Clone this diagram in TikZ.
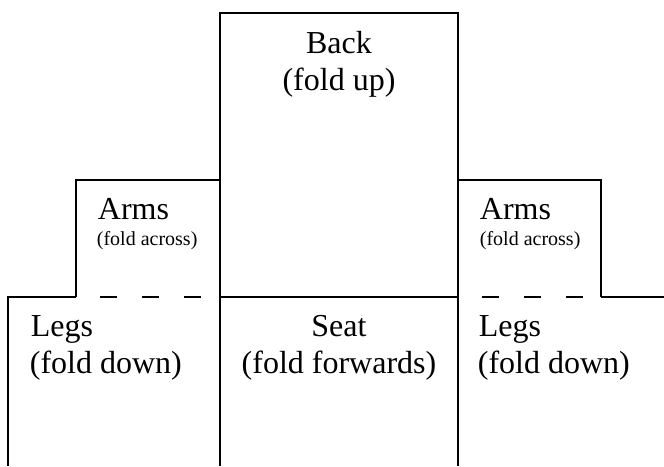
\documentclass[tikz,border=0pt]{standalone}
\usepackage{fontspec}
\setmainfont{Liberation Serif}

\begin{document}
\begin{tikzpicture}[x=1pt, y=-1pt, line width=1.8pt,
    big/.style={inner sep=0pt, font=\fontsize{32}{38}\selectfont},
    small/.style={inner sep=0pt, font=\fontsize{20}{24}\selectfont},
    fold/.style={dash pattern=on 17pt off 25pt, dash phase=18pt}]
    \useasboundingbox (0,0) rectangle (664,466);

    % Draw back and seat
    \draw (220,466) -- (220,13) -- (458,13) -- (458,466);
    \draw (220,297) -- (458,297);

    % Draw arms
    \draw (220,180) -- (76,180) -- (76,297);
    \draw (458,180) -- (601,180) -- (601,297);

    % Draw legs
    \draw (8,466) -- (8,297) -- (76,297);
    \draw (601,297) -- (664,297);

    % Fold lines
    \draw[fold] (76,297) -- (220,297);
    \draw[fold] (458,297) -- (601,297);

    % Labels
    \node[big, anchor=base] (back) at (339,53) {Back};
    \node[big, anchor=base] (backnote) at (339,90) {(fold up)};
    \node[big, anchor=base west] (armsL) at (97,219) {Arms};
    \node[small, anchor=base west] (armsLnote) at (96,245) {(fold across)};
    \node[big, anchor=base west] (armsR) at (479,219) {Arms};
    \node[small, anchor=base west] (armsRnote) at (479,245) {(fold across)};
    \node[big, anchor=base west] (legsL) at (30,336) {Legs};
    \node[big, anchor=base west] (legsLnote) at (29,373) {(fold down)};
    \node[big, anchor=base] (seat) at (339,336) {Seat};
    \node[big, anchor=base] (seatnote) at (339,373) {(fold forwards)};
    \node[big, anchor=base west] (legsR) at (478,336) {Legs};
    \node[big, anchor=base west] (legsRnote) at (477,373) {(fold down)};
\end{tikzpicture}
\end{document}
